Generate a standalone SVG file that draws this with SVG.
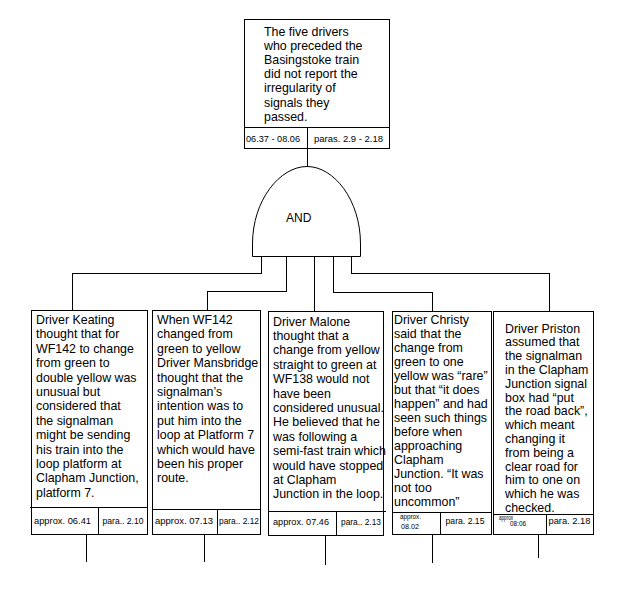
<svg xmlns="http://www.w3.org/2000/svg" width="635" height="593" viewBox="0 0 635 593">
<style>
.box{fill:#fff;stroke:#000;stroke-width:1;shape-rendering:crispEdges}
.ln{fill:none;stroke:#000;stroke-width:1;shape-rendering:crispEdges}
.gate{fill:#fff;stroke:#000;stroke-width:1}
.t{font-family:"Liberation Sans",Arial,sans-serif;font-size:12.4px;fill:#000}
.f{font-family:"Liberation Sans",Arial,sans-serif;font-size:9.3px;fill:#000}
.s{font-family:"Liberation Sans",Arial,sans-serif;font-size:8px;fill:#000}
.xs{font-family:"Liberation Sans",Arial,sans-serif;font-size:6.5px;fill:#000}
</style>
<rect width="635" height="593" fill="#fff"/>
<g id="connectors">
<path class="ln" d="M307.5,148.5 V166"/>
<path class="ln" d="M261.5,256.5 V273.5 H72.5 V310.5"/>
<path class="ln" d="M286.5,256.5 V291.5 H207.5 V310.5"/>
<path class="ln" d="M314.5,256.5 V311.5"/>
<path class="ln" d="M333.5,256.5 V292.5 H432.5 V311.5"/>
<path class="ln" d="M351.5,256.5 V273.5 H549.5 V311.5"/>
<path class="ln" d="M86.5,534.5 V562"/>
<path class="ln" d="M204.5,534.5 V562"/>
<path class="ln" d="M325.5,535.5 V565"/>
<path class="ln" d="M432.5,534.5 V563"/>
<path class="ln" d="M538.5,534.5 V558"/>
</g>
<g id="top">
<rect class="box" x="244.5" y="19.5" width="145" height="129"/>
<path class="ln" d="M244.5,127.5 H389.5 M307.5,127.5 V148.5"/>
<text class="t" x="264" y="36"><tspan x="264">The five drivers</tspan><tspan x="264" dy="14.1">who preceded the</tspan><tspan x="264" dy="14.1">Basingstoke train</tspan><tspan x="264" dy="14.1">did not report the</tspan><tspan x="264" dy="14.1">irregularity of</tspan><tspan x="264" dy="14.1">signals they</tspan><tspan x="264" dy="14.1">passed.</tspan></text>
<text class="f" x="246" y="141.5" textLength="54" lengthAdjust="spacingAndGlyphs">06.37 - 08.06</text>
<text class="f" x="314" y="141.5" textLength="69" lengthAdjust="spacingAndGlyphs">paras. 2.9 - 2.18</text>
</g>
<g id="gate">
<path class="gate" d="M252.5,256.5 L252.5,244 C252.5,200 280,166.5 307,166.5 C334,166.5 360.5,200 360.5,244 L360.5,256.5 Z"/>
<text class="t" x="286" y="222" style="font-size:12px">AND</text>
</g>
<g id="keating">
<rect class="box" x="31.5" y="310.5" width="116" height="224"/>
<path class="ln" d="M30,507.5 H147.5 M98.5,507.5 V534.5"/>
<text class="t" y="324"><tspan x="36">Driver Keating</tspan><tspan x="36" dy="14.4">thought that for</tspan><tspan x="36" dy="14.4">WF142 to change</tspan><tspan x="36" dy="14.4">from green to</tspan><tspan x="36" dy="14.4">double yellow was</tspan><tspan x="36" dy="14.4">unusual but</tspan><tspan x="36" dy="14.4">considered that</tspan><tspan x="36" dy="14.4">the signalman</tspan><tspan x="36" dy="14.4">might be sending</tspan><tspan x="36" dy="14.4">his train into the</tspan><tspan x="36" dy="14.4">loop platform at</tspan><tspan x="36" dy="14.4">Clapham Junction,</tspan><tspan x="36" dy="14.4">platform 7.</tspan></text>
<text class="f" x="34" y="524" textLength="57" lengthAdjust="spacingAndGlyphs">approx. 06.41</text>
<text class="f" x="102.5" y="524" textLength="41" lengthAdjust="spacingAndGlyphs">para.. 2.10</text>
</g>
<g id="mansbridge">
<rect class="box" x="152.5" y="310.5" width="108" height="224"/>
<path class="ln" d="M152.5,509.5 H260.5 M217.5,509.5 V534.5"/>
<text class="t" y="324"><tspan x="157">When WF142</tspan><tspan x="157" dy="14.4">changed from</tspan><tspan x="157" dy="14.4">green to yellow</tspan><tspan x="157" dy="14.4">Driver Mansbridge</tspan><tspan x="157" dy="14.4">thought that the</tspan><tspan x="157" dy="14.4">signalman’s</tspan><tspan x="157" dy="14.4">intention was to</tspan><tspan x="157" dy="14.4">put him into the</tspan><tspan x="157" dy="14.4">loop at Platform 7</tspan><tspan x="157" dy="14.4">which would have</tspan><tspan x="157" dy="14.4">been his proper</tspan><tspan x="157" dy="14.4">route.</tspan></text>
<text class="f" x="155" y="524" textLength="58" lengthAdjust="spacingAndGlyphs">approx. 07.13</text>
<text class="f" x="219" y="524" textLength="40" lengthAdjust="spacingAndGlyphs">para.. 2.12</text>
</g>
<g id="malone">
<rect class="box" x="268.5" y="311.5" width="115" height="224"/>
<path class="ln" d="M268.5,511.5 H385.5 M336.5,511.5 V535.5"/>
<text class="t" y="325.5"><tspan x="273">Driver Malone</tspan><tspan x="273" dy="14.4">thought that a</tspan><tspan x="273" dy="14.4">change from yellow</tspan><tspan x="273" dy="14.4">straight to green at</tspan><tspan x="273" dy="14.4">WF138 would not</tspan><tspan x="273" dy="14.4">have been</tspan><tspan x="273" dy="14.4">considered unusual.</tspan><tspan x="273" dy="14.4">He believed that he</tspan><tspan x="273" dy="14.4">was following a</tspan><tspan x="273" dy="14.4">semi-fast train which</tspan><tspan x="273" dy="14.4">would have stopped</tspan><tspan x="273" dy="14.4">at Clapham</tspan><tspan x="273" dy="14.4">Junction in the loop.</tspan></text>
<text class="f" x="273" y="525" textLength="56" lengthAdjust="spacingAndGlyphs">approx. 07.46</text>
<text class="f" x="341" y="525" textLength="40" lengthAdjust="spacingAndGlyphs">para.. 2.13</text>
</g>
<g id="christy">
<rect class="box" x="392.5" y="311.5" width="99" height="223"/>
<path class="ln" d="M392.5,512.5 H491.5 M440.5,512.5 V534.5"/>
<text class="t" y="323.5"><tspan x="394">Driver Christy</tspan><tspan x="394" dy="14">said that the</tspan><tspan x="394" dy="14">change from</tspan><tspan x="394" dy="14">green to one</tspan><tspan x="394" dy="14">yellow was “rare”</tspan><tspan x="394" dy="14">but that “it does</tspan><tspan x="394" dy="14">happen” and had</tspan><tspan x="394" dy="14">seen such things</tspan><tspan x="394" dy="14">before when</tspan><tspan x="394" dy="14">approaching</tspan><tspan x="394" dy="14">Clapham</tspan><tspan x="394" dy="14">Junction. “It was</tspan><tspan x="394" dy="14">not too</tspan><tspan x="394" dy="14">uncommon”</tspan></text>
<text class="s" x="400" y="519" textLength="21" lengthAdjust="spacingAndGlyphs">approx.</text>
<text class="s" x="401" y="529" textLength="18" lengthAdjust="spacingAndGlyphs">08.02</text>
<text class="f" x="445.5" y="524" textLength="39" lengthAdjust="spacingAndGlyphs">para. 2.15</text>
</g>
<g id="priston">
<rect class="box" x="493.5" y="311.5" width="100" height="223"/>
<path class="ln" d="M493.5,514.5 H593.5 M546.5,514.5 V534.5"/>
<text class="t" y="332.5"><tspan x="505">Driver Priston</tspan><tspan x="505" dy="13.8">assumed that</tspan><tspan x="505" dy="13.8">the signalman</tspan><tspan x="505" dy="13.8">in the Clapham</tspan><tspan x="505" dy="13.8">Junction signal</tspan><tspan x="505" dy="13.8">box had “put</tspan><tspan x="505" dy="13.8">the road back”,</tspan><tspan x="505" dy="13.8">which meant</tspan><tspan x="505" dy="13.8">changing it</tspan><tspan x="505" dy="13.8">from being a</tspan><tspan x="505" dy="13.8">clear road for</tspan><tspan x="505" dy="13.8">him to one on</tspan><tspan x="505" dy="13.8">which he was</tspan><tspan x="505" dy="13.8">checked.</tspan></text>
<text class="xs" x="499" y="519.5" textLength="14" lengthAdjust="spacingAndGlyphs">approx</text>
<text class="xs" x="510" y="525.5" textLength="16" lengthAdjust="spacingAndGlyphs">08:06</text>
<text class="f" x="548.5" y="524" textLength="42" lengthAdjust="spacingAndGlyphs">para. 2.18</text>
</g>
</svg>
